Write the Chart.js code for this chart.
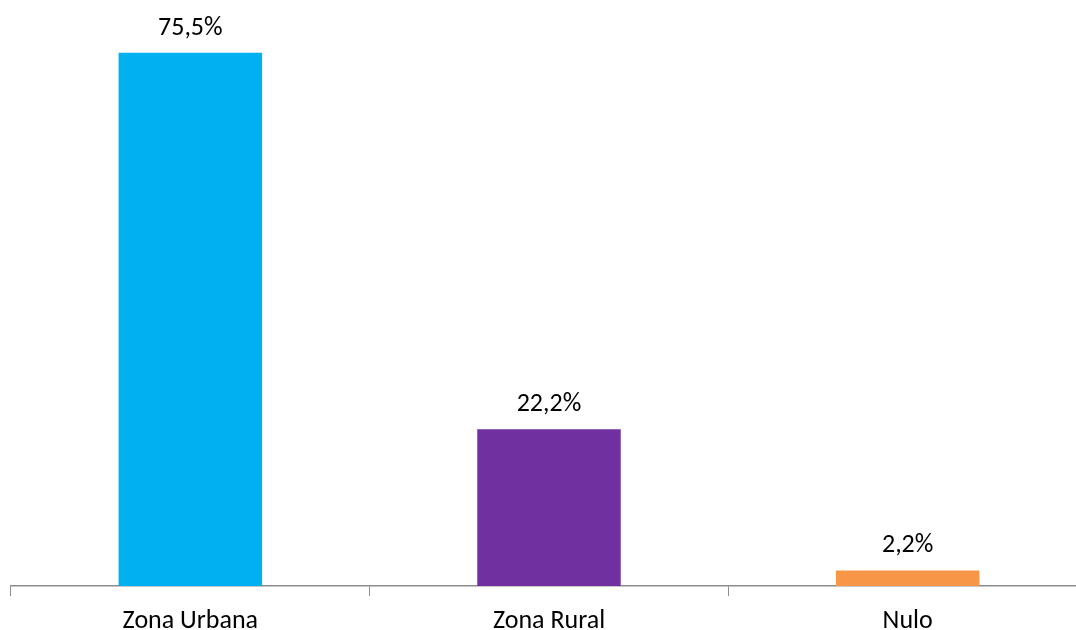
<!DOCTYPE html>
<html>
<head>
<meta charset="utf-8">
<script src="https://cdn.jsdelivr.net/npm/chart.js@4/dist/chart.umd.min.js"></script>
<style>
  html, body { margin: 0; padding: 0; background: #fff; overflow: hidden; }
  #wrap { width: 1076px; height: 630px; overflow: hidden; position: relative; }
  #box { width: 1087px; height: 630px; position: absolute; left: 0; top: 0; }
</style>
</head>
<body>
<div id="wrap"><div id="box"><canvas id="c"></canvas></div></div>
<script>
const categories = ['Zona Urbana', 'Zona Rural', 'Nulo'];
const shares = [75.5, 22.2, 2.2];
const barColors = ['#00B0F0', '#7030A0', '#F79646'];

const FONT = "Carlito, 'Open Sans', 'Liberation Sans', sans-serif";

// writes each bar's percentage (comma decimal) above it
const valueLabels = {
  id: 'valueLabels',
  afterDatasetsDraw(chart) {
    const ctx = chart.ctx;
    const meta = chart.getDatasetMeta(0);
    ctx.save();
    ctx.font = '26px ' + FONT;
    ctx.fillStyle = '#000';
    ctx.textAlign = 'center';
    ctx.textBaseline = 'alphabetic';
    meta.data.forEach((bar, i) => {
      const txt = shares[i].toFixed(1).replace('.', ',') + '%';
      ctx.fillText(txt, bar.x, bar.y - 18);
    });
    ctx.restore();
  }
};

new Chart(document.getElementById('c'), {
  type: 'bar',
  data: {
    labels: categories,
    datasets: [{
      data: shares,
      backgroundColor: barColors,
      borderWidth: 0,
      categoryPercentage: 1,
      barPercentage: 0.4
    }]
  },
  options: {
    responsive: true,
    maintainAspectRatio: false,
    animation: false,
    events: [],
    layout: { padding: { left: 11, right: 0, top: 21, bottom: 0 } },
    plugins: { legend: { display: false }, tooltip: { enabled: false } },
    scales: {
      x: {
        grid: {
          display: true,
          drawOnChartArea: false,
          drawTicks: true,
          tickLength: 10,
          color: '#8C8C8C',
          offset: true
        },
        border: { display: true, color: '#8C8C8C', width: 1.5 },
        ticks: {
          color: '#000',
          font: { family: FONT, size: 26 },
          padding: 10
        },
        afterFit(scale) { scale.height = 44; }
      },
      y: {
        display: false,
        min: 0,
        max: 80
      }
    }
  },
  plugins: [valueLabels]
});
</script>
</body>
</html>
